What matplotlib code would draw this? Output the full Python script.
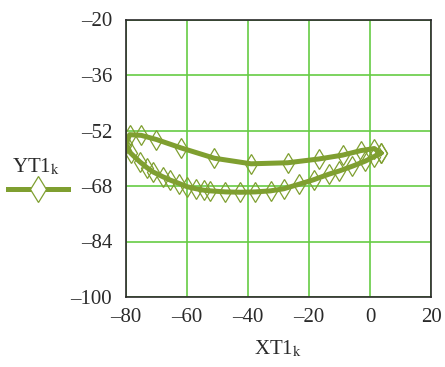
import matplotlib
matplotlib.use("Agg")
import matplotlib.pyplot as plt
from matplotlib.lines import Line2D
from matplotlib.ticker import FuncFormatter

# Data (closed loop)
XT1 = [3.5, 1.4, -3.0, -9.0, -16.7, -27.0, -39.0, -51.0, -62.0, -70.0, -75.0, -78.8,
       -80.0, -78.5, -75.5, -73.0, -71.0, -68.0, -65.5, -62.5, -60.0, -57.0, -54.5,
       -52.4, -47.4, -42.5, -37.6, -32.6, -28.3, -23.3, -18.5, -13.5, -10.2, -5.8,
       -1.5, 1.2, 3.5]
YT1 = [-58.5, -57.2, -57.8, -59.1, -60.2, -61.3, -61.6, -60.0, -57.0, -54.6, -53.4, -53.2,
       -56.0, -58.5, -61.0, -62.8, -64.0, -65.3, -66.3, -67.3, -68.2, -68.8, -69.2,
       -69.4, -69.7, -69.8, -69.7, -69.4, -68.8, -67.5, -66.2, -64.6, -63.7, -62.3,
       -60.8, -59.6, -58.5]

xticks = [-80, -60, -40, -20, 0, 20]
yticks = [-100, -84, -68, -52, -36, -20]

color = "#7F9F30"
grid_color = "#66CC44"
text_color = "#2a2a2a"

plt.rcParams['mathtext.fontset'] = 'stix'
plt.rcParams['font.family'] = ['Liberation Serif', 'DejaVu Serif']

fmt = FuncFormatter(lambda v, p: ('\u2013%d' % abs(v)) if v < 0 else '%d' % v)

fig = plt.figure(figsize=(4.45, 3.67), dpi=100)
ax = fig.add_axes([126/445, 1-297/367, (431-126)/445, (297-19.5)/367])

ax.plot(XT1, YT1, color=color, lw=3.6, marker='d', markersize=10.5,
        markerfacecolor='none', markeredgecolor=color, markeredgewidth=0.9, zorder=3)

ax.set_xlim(-80, 20)
ax.set_ylim(-100, -20)
ax.set_xticks(xticks)
ax.set_yticks(yticks)
ax.xaxis.set_major_formatter(fmt)
ax.yaxis.set_major_formatter(fmt)
ax.tick_params(length=0, labelsize=15, colors=text_color)
ax.tick_params(axis='y', pad=10)
ax.tick_params(axis='x', pad=8)
ax.grid(True, color=grid_color, lw=1.2)
ax.set_axisbelow(True)
for s in ax.spines.values():
    s.set_color(text_color)
    s.set_linewidth(1.2)
    s.set_zorder(4)

ax.set_xlabel(r'XT1$_{\mathrm{k}}$', fontsize=15, color=text_color, labelpad=8)

# Left-side label with legend sample
fig.text(12/445, 1-172/367, r'YT1$_{\mathrm{k}}$', fontsize=15, color=text_color,
         ha='left', va='baseline')
ln = Line2D([8/445, 68/445], [1-189/367, 1-189/367], transform=fig.transFigure,
            color=color, lw=3.6)
fig.add_artist(ln)
mk = Line2D([38/445], [1-189/367], transform=fig.transFigure, marker='d',
            markersize=13, markerfacecolor='white', markeredgecolor=color,
            markeredgewidth=0.9, linestyle='none')
fig.add_artist(mk)

fig.savefig('out.png', dpi=100)
